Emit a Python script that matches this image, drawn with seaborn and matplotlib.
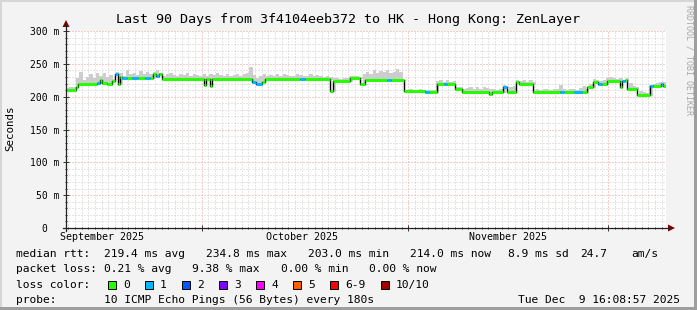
import numpy as np
import pandas as pd
import matplotlib
matplotlib.use("Agg")
import matplotlib.pyplot as plt
import matplotlib.dates as mdates
import matplotlib.transforms as mtransforms
from matplotlib.patches import Rectangle, Polygon
from matplotlib.lines import Line2D
import seaborn as sns

# ---------------- data ----------------
title = "Last 90 Days from 3f4104eeb372 to HK - Hong Kong: ZenLayer"
end_time = pd.Timestamp("2025-12-09 16:08:57")
span_days = 90

# median rtt (ms) as steps: start day (offset from graph start), value, packet loss count
step_days = [0.0, 1.5, 1.8, 4.65, 5.1, 5.4, 6.15, 6.9, 7.35, 7.8, 8.1, 8.4, 9.15, 9.9, 10.8,
             11.85, 12.6, 13.05, 13.5, 13.95, 14.4, 20.7, 21.0, 21.6, 21.9, 27.9, 28.5, 29.4,
             29.85, 35.1, 35.85, 39.6, 40.05, 42.6, 44.1, 44.85, 48.15, 48.75, 50.7, 53.85,
             54.45, 55.65, 56.7, 57.15, 58.35, 59.4, 63.45, 63.9, 65.55, 66.15, 67.5, 67.95,
             70.05, 74.1, 74.7, 76.2, 77.4, 78.15, 79.05, 79.8, 80.4, 81.15, 83.1, 83.4, 83.85,
             84.15, 85.65, 87.6, 88.05, 89.25, 89.55]
step_ms = [210, 214, 219, 221, 225, 221, 219, 224, 234, 219, 230, 228, 228, 228, 228, 228, 228,
           234, 231, 235, 227, 218, 227, 216, 227, 222, 219, 222, 227, 227, 227, 209, 224, 229,
           220, 226, 225, 226, 208, 207, 207, 219, 219, 219, 212, 207, 204, 207, 214, 207, 222,
           219, 207, 207, 207, 207, 207, 215, 223, 220, 220, 224, 214, 224, 226, 212, 203, 216,
           216, 220, 216]
step_loss = ["0", "0", "0", "1", "0", "0", "0", "0", "1", "0",
             "0", "1", "0", "1", "0", "1", "0", "0", "1", "0",
             "0", "0", "0", "0", "0", "1", "1", "0", "0", "1",
             "0", "0", "0", "0", "0", "0", "1", "0", "0", "1",
             "0", "0", "1", "0", "0", "0", "0", "0", "1", "0",
             "0", "0", "0", "1", "0", "1", "0", "0", "0", "1",
             "0", "0", "0", "1", "0", "0", "0", "1", "0", "1",
             "0"]

# smoke (upper spread of the pings), ms, one value every half day
smoke_step = 0.5
smoke_top = [
    213, 214, 215, 228, 238, 226, 230, 234, 229, 236,
    232, 236, 230, 233, 227, 238, 236, 232, 240, 234,
    236, 233, 239, 235, 237, 234, 238, 240, 236, 232,
    234, 236, 233, 231, 235, 233, 236, 232, 234, 233,
    231, 234, 232, 235, 233, 236, 233, 232, 234, 231,
    233, 235, 232, 234, 236, 245, 233, 229, 231, 234,
    232, 233, 231, 234, 232, 235, 233, 231, 232, 234,
    233, 231, 232, 234, 231, 233, 232, 230, 231, 230,
    228, 229, 227, 228, 229, 231, 232, 231, 230, 234,
    238, 235, 241, 236, 239, 237, 240, 236, 238, 242,
    237, 211, 210, 211, 210, 210, 211, 210, 210, 210,
    210, 224, 226, 223, 225, 222, 224, 215, 214, 212,
    213, 214, 211, 215, 212, 214, 213, 211, 212, 210,
    211, 218, 212, 214, 216, 225, 224, 226, 223, 225,
    222, 211, 210, 212, 211, 210, 212, 211, 218, 211,
    210, 211, 212, 210, 213, 216, 212, 219, 227, 226,
    224, 225, 228, 230, 229, 227, 228, 226, 229, 221,
    216, 214, 209, 207, 206, 218, 220, 221, 223, 222]

y_ticks = [0, 50, 100, 150, 200, 250, 300]
y_tick_labels = ["0  ", "50 m", "100 m", "150 m", "200 m", "250 m", "300 m"]
month_labels = ["September 2025", "October 2025", "November 2025"]
month_label_dates = ["2025-09-16", "2025-10-16", "2025-11-16"]

loss_labels = ["0", "1", "2", "3", "4", "5", "6-9", "10/10"]
loss_colors = ["#26ff00", "#00b8ff", "#0059ff", "#7e00ff", "#ff00ff", "#ff5e00", "#ff0000", "#a10000"]

stat_row1 = ["median rtt:", "219.4 ms avg", "234.8 ms max", "203.0 ms min", "214.0 ms now",
             "8.9 ms sd", "24.7", "am/s"]
stat_row2 = ["packet loss:", "0.21 % avg", "9.38 % max", "0.00 % min", "0.00 % now"]
probe_row = ["probe:", "10 ICMP Echo Pings (56 Bytes) every 180s", "Tue Dec  9 16:08:57 2025"]

# ---------------- figure ----------------
W, H = 697, 310
DPI = 100
plt.rcParams["lines.scale_dashes"] = False
MONO = ["DejaVu Sans Mono"]

fig = plt.figure(figsize=(W / DPI, H / DPI), dpi=DPI, facecolor="#f3f3f3")


def fx(px):
    return px / W


def fy(py):
    return 1 - py / H


# frame shading
fig.add_artist(Rectangle((0, 0), fx(2), 1, transform=fig.transFigure, color="#d6d6d6", lw=0))
fig.add_artist(Rectangle((0, fy(2)), 1, 2 / H, transform=fig.transFigure, color="#d6d6d6", lw=0))
fig.add_artist(Rectangle((fx(W - 3), 0), 3 / W, 1, transform=fig.transFigure, color="#9e9e9e", lw=0))
fig.add_artist(Rectangle((0, 0), 1, 3 / H, transform=fig.transFigure, color="#9e9e9e", lw=0))

x0, x1, ytop, ybot = 66, 666, 31, 228
ax = fig.add_axes([fx(x0), fy(ybot), (x1 - x0) / W, (ybot - ytop) / H])
ax.set_facecolor("white")

start_time = end_time - pd.Timedelta(days=span_days)

# median steps dataframe
t_steps = [start_time + pd.Timedelta(days=d) for d in step_days]
med_df = pd.DataFrame({"time": t_steps + [end_time], "ms": step_ms + [step_ms[-1]]})

# colored segments per loss
seg_rows = []
bounds = step_days + [span_days]
for i, (v, l) in enumerate(zip(step_ms, step_loss)):
    seg_rows.append({"seg": i, "time": start_time + pd.Timedelta(days=bounds[i]), "ms": v, "loss": l})
    seg_rows.append({"seg": i, "time": start_time + pd.Timedelta(days=bounds[i + 1]), "ms": v, "loss": l})
seg_df = pd.DataFrame(seg_rows)

# smoke
n = len(smoke_top)
edges_d = np.arange(n + 1) * smoke_step
idx = np.searchsorted(np.array(step_days), edges_d[:-1], side="right") - 1
med_at = np.array(step_ms)[idx]
top = np.maximum(np.array(smoke_top), med_at)
low = med_at - 1.5
edges_t = [start_time + pd.Timedelta(days=float(d)) for d in edges_d]
ax.fill_between(edges_t, np.append(low, low[-1]), np.append(top, top[-1]), step="post",
                color="#cdcdcd", lw=0, zorder=2)

sns.lineplot(data=med_df, x="time", y="ms", ax=ax, color="black", lw=1.0,
             drawstyle="steps-post", zorder=3, sort=False)
palette = dict(zip(loss_labels, loss_colors))
sns.lineplot(data=seg_df, x="time", y="ms", hue="loss", units="seg", estimator=None,
             palette=palette, hue_order=loss_labels, lw=2.2, ax=ax, legend=False,
             sort=False, zorder=4, solid_capstyle="butt")

ax.set_xlim(start_time, end_time)
ax.set_ylim(0, 300)
ax.set_xlabel("")
ax.set_ylabel("")

# grid
ax.xaxis.set_minor_locator(mdates.DayLocator())
ax.xaxis.set_major_locator(mdates.MonthLocator())
ax.xaxis.set_major_formatter(plt.NullFormatter())
ax.set_yticks(y_ticks)
ax.set_yticklabels(y_tick_labels, family=MONO, fontsize=7)
ax.set_yticks(np.arange(0, 301, 10), minor=True)
ax.set_axisbelow(True)
ax.grid(which="minor", color="#cccccc", lw=0.72, ls=(0, (0.72, 1.44)))
ax.grid(which="major", color="#eb9a9a", lw=0.72, ls=(0, (0.72, 1.44)))
ax.tick_params(axis="y", which="major", direction="inout", length=4, width=0.7, color="#333333", pad=2.5)
ax.tick_params(axis="y", which="minor", direction="inout", length=2, width=0.7, color="#333333")
ax.tick_params(axis="x", which="major", direction="inout", length=4, width=0.7, color="#333333", pad=0)
ax.tick_params(axis="x", which="minor", direction="inout", length=2, width=0.7, color="#333333")
for s in ax.spines.values():
    s.set_visible(False)

# axes lines and arrows
fig.add_artist(Line2D([fx(x0), fx(x0)], [fy(ybot + 3), fy(24)], transform=fig.transFigure,
                      color="#222222", lw=0.9))
fig.add_artist(Line2D([fx(x0 - 3), fx(670)], [fy(ybot), fy(ybot)], transform=fig.transFigure,
                      color="#222222", lw=0.9))
fig.add_artist(Polygon([[fx(x0 - 3.5), fy(27)], [fx(x0 + 3.5), fy(27)], [fx(x0), fy(20)]],
                       closed=True, transform=fig.transFigure, color="#800000", lw=0))
fig.add_artist(Polygon([[fx(668), fy(ybot - 3.5)], [fx(668), fy(ybot + 3.5)], [fx(675), fy(ybot)]],
                       closed=True, transform=fig.transFigure, color="#800000", lw=0))

# month labels
blend = mtransforms.blended_transform_factory(ax.transData, fig.transFigure)
for lab, d in zip(month_labels, month_label_dates):
    ax.text(pd.Timestamp(d), fy(236.5), lab, transform=blend,
            ha="center", va="center", family=MONO, fontsize=7.2)

# texts
fig.text(fx(348), fy(19), title, ha="center", va="center", family=MONO, fontsize=9.6)
fig.text(fx(10), fy(128), "Seconds", rotation=90, ha="center", va="center", family=MONO, fontsize=7.8)
fig.text(fx(689), fy(5), "RRDTOOL / TOBI OETIKER", rotation=270, ha="center", va="top",
         family=MONO, fontsize=6, color="#a8a8a8")

LFS = 8.13
row_y = [254.3, 269.5, 285.0, 300.3]
r1x = [16, 104, 206, 308, 410, 508, 580, 631]
for s, x in zip(stat_row1, r1x):
    fig.text(fx(x), fy(row_y[0]), s, ha="left", va="center", family=MONO, fontsize=LFS)
r2x = [16, 104, 192, 281, 369]
for s, x in zip(stat_row2, r2x):
    fig.text(fx(x), fy(row_y[1]), s, ha="left", va="center", family=MONO, fontsize=LFS)
fig.text(fx(16), fy(row_y[2]), "loss color:", ha="left", va="center", family=MONO, fontsize=LFS)
box_x = [108, 145, 182, 219, 256, 293, 330, 381]
for lab, c, x in zip(loss_labels, loss_colors, box_x):
    fig.add_artist(Rectangle((fx(x), fy(row_y[2] + 4)), 8 / W, 8 / H, transform=fig.transFigure,
                             facecolor=c, edgecolor="black", lw=0.7))
    fig.text(fx(x + 15), fy(row_y[2]), lab, ha="left", va="center", family=MONO, fontsize=LFS)
fig.text(fx(16), fy(row_y[3]), probe_row[0], ha="left", va="center", family=MONO, fontsize=LFS)
fig.text(fx(104), fy(row_y[3]), probe_row[1], ha="left", va="center", family=MONO, fontsize=LFS)
fig.text(fx(680), fy(row_y[3]), probe_row[2], ha="right", va="center", family=MONO, fontsize=LFS)

fig.savefig("out.png", dpi=DPI, facecolor=fig.get_facecolor())
